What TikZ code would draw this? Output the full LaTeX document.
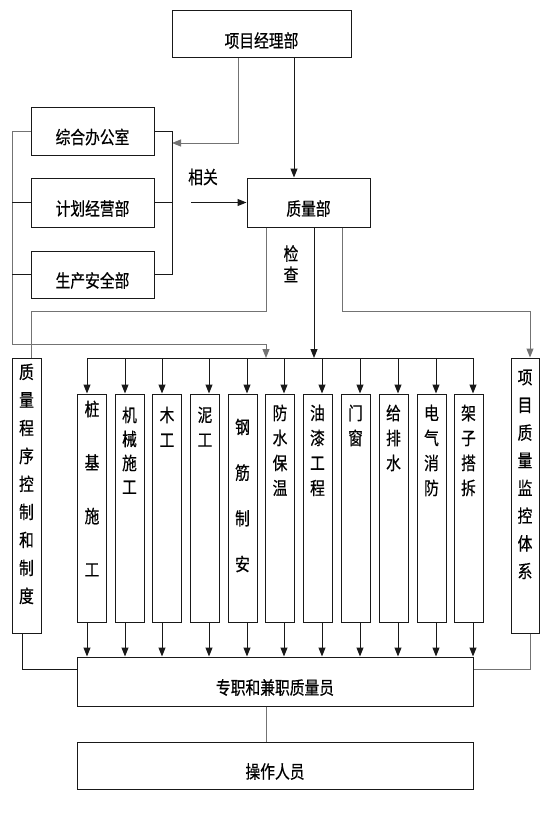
\documentclass[tikz,border=0pt]{standalone}
\usepackage{fontspec}
\setmainfont[FakeStretch=0.82,FakeBold=0.5]{Noto Sans CJK SC}
\usetikzlibrary{arrows.meta,calc}
\begin{document}
\begin{tikzpicture}[x=1pt,y=-1pt,
  box/.style={draw=black!90, line width=1pt, inner sep=0pt},
  conn/.style={draw=black!90, line width=1pt},
  lite/.style={draw=black!55, line width=1pt},
  arr/.style={-{Triangle[length=9pt,width=7pt]}},
  htxt/.style={font=\fontsize{18}{20}\selectfont, inner sep=0pt, yshift=-6pt},
  vtxt/.style={anchor=north, align=center, inner sep=0pt},
]
\fill[white] (0,0) rectangle (554,816);
\useasboundingbox (0,0) rectangle (554,816);

% top boxes
\node[box, minimum width=179pt, minimum height=47pt, label={[htxt]center:项目经理部}] (pm) at (261.5,34.5) {};
\node[box, minimum width=123pt, minimum height=48pt, label={[htxt]center:综合办公室}] (zh) at (92.5,131) {};
\node[box, minimum width=123pt, minimum height=49pt, label={[htxt]center:计划经营部}] (jh) at (92.5,202.5) {};
\node[box, minimum width=123pt, minimum height=47pt, label={[htxt]center:生产安全部}] (sc) at (92.5,274.5) {};
\node[box, minimum width=123pt, minimum height=49pt, label={[htxt]center:质量部}] (zl) at (308.5,202.5) {};

% side boxes
\node[box, minimum width=29pt, minimum height=275pt] (qp) at (26.5,495.5) {};
\node[box, minimum width=28pt, minimum height=275pt] (jk) at (525,495.5) {};

% work boxes
\foreach \n/\cx in {b1/92, b2/129.5, b3/167, b4/205, b5/242.5, b6/280, b7/317.5, b8/355.5, b9/393.5, b10/431.5, b11/468.5}
  \node[box, minimum width=29pt, minimum height=228pt] (\n) at (\cx,508) {};

% bottom boxes
\node[box, minimum width=396pt, minimum height=49pt, label={[htxt]center:专职和兼职质量员}] (zz) at (275,681.5) {};
\node[box, minimum width=396pt, minimum height=47pt, label={[htxt]center:操作人员}] (cz) at (275,765.5) {};

% vertical texts
\node[vtxt, font=\fontsize{18}{28}\selectfont] at ($(qp.north)+(0,6)$) {质\\量\\程\\序\\控\\制\\和\\制\\度};
\node[vtxt, font=\fontsize{18}{27.7}\selectfont] at ($(jk.north)+(0,12)$) {项\\目\\质\\量\\监\\控\\体\\系};
\node[vtxt, font=\fontsize{18}{53.5}\selectfont] at ($(b1.north)+(0,7)$) {桩\\基\\施\\工};
\node[vtxt, font=\fontsize{18}{24}\selectfont] at ($(b2.north)+(0,13)$) {机\\械\\施\\工};
\node[vtxt, font=\fontsize{18}{25}\selectfont] at ($(b3.north)+(0,13)$) {木\\工};
\node[vtxt, font=\fontsize{18}{25}\selectfont] at ($(b4.north)+(0,13)$) {泥\\工};
\node[vtxt, font=\fontsize{18}{45.7}\selectfont] at ($(b5.north)+(0,25)$) {钢\\筋\\制\\安};
\node[vtxt, font=\fontsize{18}{25}\selectfont] at ($(b6.north)+(0,11)$) {防\\水\\保\\温};
\node[vtxt, font=\fontsize{18}{25}\selectfont] at ($(b7.north)+(0,11)$) {油\\漆\\工\\程};
\node[vtxt, font=\fontsize{18}{25}\selectfont] at ($(b8.north)+(0,11)$) {门\\窗};
\node[vtxt, font=\fontsize{18}{25}\selectfont] at ($(b9.north)+(0,11)$) {给\\排\\水};
\node[vtxt, font=\fontsize{18}{25}\selectfont] at ($(b10.north)+(0,11)$) {电\\气\\消\\防};
\node[vtxt, font=\fontsize{18}{25}\selectfont] at ($(b11.north)+(0,11)$) {架\\子\\搭\\拆};

% free labels
\node[font=\fontsize{18}{20}\selectfont, inner sep=0pt] (xgl) at (203,177) {相关};
\node[vtxt, font=\fontsize{18}{21}\selectfont] (jcl) at (291,245) {检\\查};

% coordinates
\coordinate (pmL) at (238,143);
\coordinate (rbus) at (172,0);
\coordinate (lbus) at (12,344);
\coordinate (chk) at (266,358);
\coordinate (xg) at (191,202.5);
\coordinate (pmR) at (294,0);
\coordinate (qL) at (266,311);
\coordinate (qT) at (31,311);
\coordinate (zlC) at (314,358);
\coordinate (qR) at (342,311);
\coordinate (jT) at (530,311);
\coordinate (qB) at (22,669);
\coordinate (jB) at (530,669);
\coordinate (zc) at (266,0);
\foreach \i/\ax in {1/87, 2/125, 3/162, 4/209, 5/247, 6/284, 7/322, 8/360, 9/398, 10/436, 11/473}
  \coordinate (a\i) at (\ax,358);

% connectors top
\draw[lite,arr] (pm.south -| pmL) -- (pmL) -- (pmL -| rbus);
\draw[conn,arr] (pm.south -| pmR) -- (zl.north -| pmR);
\draw[conn] (zh.east) -| (sc.east -| rbus) -- (sc.east);
\draw[conn] (jh.east) -- (jh.east -| rbus);
\draw[lite,arr] (zh.west) -| (lbus) -| (chk);
\draw[conn] (jh.west) -- (jh.west -| lbus);
\draw[conn] (sc.west) -- (sc.west -| lbus);
\draw[conn,arr] (xg) -- (zl.west);

% from quality dept
\draw[lite] (zl.south -| qL) -- (qL) -- (qT) -- (qT |- qp.north);
\draw[conn,arr] (zl.south -| zlC) -- (zlC);
\draw[lite,arr] (zl.south -| qR) -- (qR) -- (jT) -- (jT |- jk.north);

% bus and work arrows
\draw[conn] (a1) -- (a11);
\foreach \i in {1,...,11}{
  \draw[conn,arr] (a\i) -- (a\i |- b\i.north);
  \draw[conn,arr] (a\i |- b\i.south) -- (a\i |- zz.north);
}

% bottom
\draw[conn] (qp.south -| qB) -- (qB) -- (qB -| zz.west);
\draw[lite] (jk.south -| jB) -- (jB) -- (jB -| zz.east);
\draw[lite] (zz.south -| zc) -- (cz.north -| zc);
\end{tikzpicture}
\end{document}
